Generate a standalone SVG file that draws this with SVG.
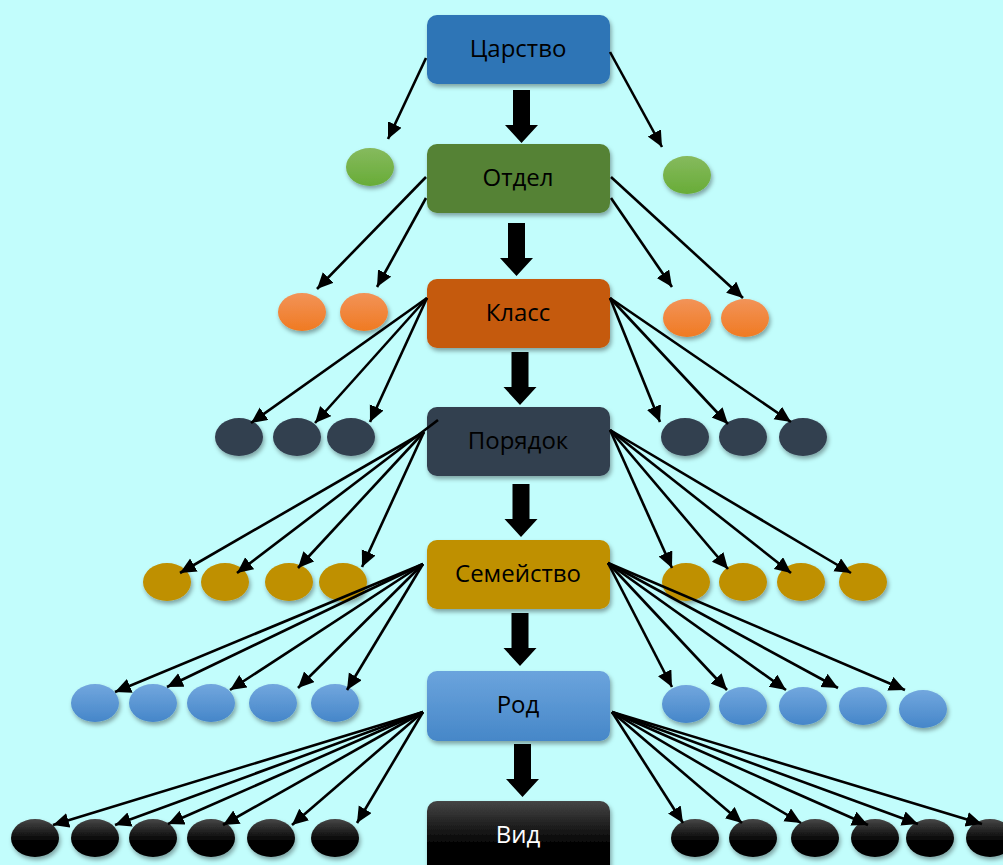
<svg xmlns="http://www.w3.org/2000/svg" width="1003" height="865" viewBox="0 0 1003 865">
<defs>
<filter id="sh" x="-20%" y="-20%" width="150%" height="160%"><feDropShadow dx="1.5" dy="3" stdDeviation="2" flood-color="#000" flood-opacity="0.35"/></filter>
<linearGradient id="gGreen" x1="0" y1="0" x2="0" y2="1"><stop offset="0" stop-color="#86BA5E"/><stop offset="1" stop-color="#68AC37"/></linearGradient>
<linearGradient id="gOrange" x1="0" y1="0" x2="0" y2="1"><stop offset="0" stop-color="#F29358"/><stop offset="1" stop-color="#F07A22"/></linearGradient>
<linearGradient id="gBlue" x1="0" y1="0" x2="0" y2="1"><stop offset="0" stop-color="#72A7DE"/><stop offset="1" stop-color="#4586C9"/></linearGradient>
<linearGradient id="gBlack" x1="0" y1="0" x2="0" y2="1"><stop offset="0" stop-color="#474747"/><stop offset="0.6" stop-color="#000"/><stop offset="1" stop-color="#000"/></linearGradient>
<linearGradient id="gRod" x1="0" y1="0" x2="0" y2="1"><stop offset="0" stop-color="#6BA4DD"/><stop offset="1" stop-color="#4687C8"/></linearGradient>
<linearGradient id="gVid" x1="0" y1="0" x2="0" y2="1"><stop offset="0" stop-color="#454545"/><stop offset="0.6" stop-color="#000"/><stop offset="1" stop-color="#000"/></linearGradient>
<marker id="ah" markerUnits="userSpaceOnUse" markerWidth="18" markerHeight="18" refX="16" refY="7.5" orient="auto"><path d="M0,0 L16,7.5 L0,15 z" fill="#000"/></marker>
<path id="fat" d="M-8.5,0 H8.5 V35 H16.5 L0,53 L-16.5,35 H-8.5 Z" fill="#000"/>
</defs>
<style>
.box{filter:url(#sh)}
.lbl{font-family:"Open Sans","Noto Sans","DejaVu Sans",sans-serif;font-size:24px;fill:#000;text-anchor:middle}
.ov{filter:url(#sh)}
.green{fill:url(#gGreen)}
.orange{fill:url(#gOrange)}
.dark{fill:#333F50}
.gold{fill:#BF9000}
.blue{fill:url(#gBlue)}
.black{fill:url(#gBlack)}
.c line{stroke:#000;stroke-width:2.6;marker-end:url(#ah)}
</style>
<rect width="1003" height="865" fill="#C2FDFC"/>

<g id="node-tsarstvo"><rect class="box" x="427" y="15" width="183" height="69" rx="10" fill="#2E75B6"/><text class="lbl" x="518" y="57">Царство</text></g>
<g id="node-otdel"><rect class="box" x="427" y="144" width="183" height="69" rx="10" fill="#548235"/><text class="lbl" x="518" y="186">Отдел</text></g>
<g id="node-klass"><rect class="box" x="427" y="279" width="183" height="69" rx="10" fill="#C55A11"/><text class="lbl" x="518" y="321">Класс</text></g>
<g id="node-poryadok"><rect class="box" x="427" y="407" width="183" height="69" rx="10" fill="#333F50"/><text class="lbl" x="518" y="449">Порядок</text></g>
<g id="node-semeystvo"><rect class="box" x="427" y="540" width="183" height="69" rx="10" fill="#BF9000"/><text class="lbl" x="518" y="582">Семейство</text></g>
<g id="node-rod"><rect class="box" x="427" y="671" width="183" height="70" rx="10" fill="url(#gRod)"/><text class="lbl" x="518" y="713">Род</text></g>
<g id="node-vid"><rect class="box" x="427" y="801" width="183" height="75" rx="10" fill="url(#gVid)"/><text class="lbl" x="518" y="843" style="fill:#fff">Вид</text></g>

<g id="ovals-otdel">
<ellipse id="o1a" class="ov green" cx="370" cy="167" rx="24" ry="19"/>
<ellipse id="o1b" class="ov green" cx="687" cy="175" rx="24" ry="19"/>
</g>
<g id="ovals-klass">
<ellipse id="o2a" class="ov orange" cx="302" cy="312" rx="24" ry="19"/>
<ellipse id="o2b" class="ov orange" cx="364" cy="312" rx="24" ry="19"/>
<ellipse id="o2c" class="ov orange" cx="687" cy="318" rx="24" ry="19"/>
<ellipse id="o2d" class="ov orange" cx="745" cy="318" rx="24" ry="19"/>
</g>
<g id="ovals-poryadok">
<ellipse id="o3a" class="ov dark" cx="239" cy="437" rx="24" ry="19"/>
<ellipse id="o3b" class="ov dark" cx="297" cy="437" rx="24" ry="19"/>
<ellipse id="o3c" class="ov dark" cx="351" cy="437" rx="24" ry="19"/>
<ellipse id="o3d" class="ov dark" cx="685" cy="437" rx="24" ry="19"/>
<ellipse id="o3e" class="ov dark" cx="743" cy="437" rx="24" ry="19"/>
<ellipse id="o3f" class="ov dark" cx="803" cy="437" rx="24" ry="19"/>
</g>
<g id="ovals-semeystvo">
<ellipse id="o4a" class="ov gold" cx="167" cy="582" rx="24" ry="19"/>
<ellipse id="o4b" class="ov gold" cx="225" cy="582" rx="24" ry="19"/>
<ellipse id="o4c" class="ov gold" cx="289" cy="582" rx="24" ry="19"/>
<ellipse id="o4d" class="ov gold" cx="343" cy="582" rx="24" ry="19"/>
<ellipse id="o4e" class="ov gold" cx="686" cy="582" rx="24" ry="19"/>
<ellipse id="o4f" class="ov gold" cx="743" cy="582" rx="24" ry="19"/>
<ellipse id="o4g" class="ov gold" cx="801" cy="582" rx="24" ry="19"/>
<ellipse id="o4h" class="ov gold" cx="863" cy="582" rx="24" ry="19"/>
</g>
<g id="ovals-rod">
<ellipse id="o5a" class="ov blue" cx="95" cy="703" rx="24" ry="19"/>
<ellipse id="o5b" class="ov blue" cx="153" cy="703" rx="24" ry="19"/>
<ellipse id="o5c" class="ov blue" cx="211" cy="703" rx="24" ry="19"/>
<ellipse id="o5d" class="ov blue" cx="273" cy="703" rx="24" ry="19"/>
<ellipse id="o5e" class="ov blue" cx="335" cy="703" rx="24" ry="19"/>
<ellipse id="o5f" class="ov blue" cx="686" cy="704" rx="24" ry="19"/>
<ellipse id="o5g" class="ov blue" cx="743" cy="706" rx="24" ry="19"/>
<ellipse id="o5h" class="ov blue" cx="803" cy="706" rx="24" ry="19"/>
<ellipse id="o5i" class="ov blue" cx="863" cy="706" rx="24" ry="19"/>
<ellipse id="o5j" class="ov blue" cx="923" cy="709" rx="24" ry="19"/>
</g>
<g id="ovals-vid">
<ellipse id="o6a" class="ov black" cx="35" cy="838" rx="24" ry="19"/>
<ellipse id="o6b" class="ov black" cx="95" cy="838" rx="24" ry="19"/>
<ellipse id="o6c" class="ov black" cx="153" cy="838" rx="24" ry="19"/>
<ellipse id="o6d" class="ov black" cx="211" cy="838" rx="24" ry="19"/>
<ellipse id="o6e" class="ov black" cx="271" cy="838" rx="24" ry="19"/>
<ellipse id="o6f" class="ov black" cx="335" cy="838" rx="24" ry="19"/>
<ellipse id="o6g" class="ov black" cx="695" cy="838" rx="24" ry="19"/>
<ellipse id="o6h" class="ov black" cx="753" cy="838" rx="24" ry="19"/>
<ellipse id="o6i" class="ov black" cx="815" cy="838" rx="24" ry="19"/>
<ellipse id="o6j" class="ov black" cx="875" cy="838" rx="24" ry="19"/>
<ellipse id="o6k" class="ov black" cx="930" cy="838" rx="24" ry="19"/>
<ellipse id="o6l" class="ov black" cx="990" cy="838" rx="24" ry="19"/>
</g>

<g id="connectors" class="c">
<use href="#fat" x="521.5" y="90"/>
<use href="#fat" x="516.5" y="223"/>
<use href="#fat" x="520" y="352"/>
<use href="#fat" x="521" y="484"/>
<use href="#fat" x="520" y="613"/>
<use href="#fat" x="522.5" y="744"/>

<line x1="426" y1="58" x2="388" y2="139"/>
<line x1="610" y1="52" x2="662" y2="147"/>

<line x1="426" y1="177" x2="317" y2="289"/>
<line x1="426" y1="198" x2="377" y2="287"/>
<line x1="611" y1="177" x2="743" y2="298"/>
<line x1="611" y1="198" x2="672" y2="287"/>

<line x1="427" y1="298" x2="251" y2="423"/>
<line x1="427" y1="298" x2="315" y2="423"/>
<line x1="427" y1="298" x2="370" y2="422"/>
<line x1="610" y1="298" x2="660" y2="422"/>
<line x1="610" y1="298" x2="728" y2="424"/>
<line x1="610" y1="298" x2="791" y2="422"/>

<line x1="424" y1="432" x2="180" y2="573"/>
<line x1="438" y1="420" x2="237" y2="573"/>
<line x1="424" y1="432" x2="298" y2="568"/>
<line x1="424" y1="432" x2="362" y2="567"/>
<line x1="610" y1="430" x2="672" y2="568"/>
<line x1="610" y1="430" x2="728" y2="569"/>
<line x1="610" y1="430" x2="791" y2="573"/>
<line x1="610" y1="430" x2="851" y2="573"/>

<line x1="423" y1="564" x2="115" y2="692"/>
<line x1="423" y1="564" x2="167" y2="687"/>
<line x1="423" y1="564" x2="230" y2="690"/>
<line x1="423" y1="564" x2="298" y2="688"/>
<line x1="423" y1="564" x2="347" y2="690"/>
<line x1="608" y1="563" x2="672" y2="687"/>
<line x1="608" y1="563" x2="727" y2="690"/>
<line x1="608" y1="563" x2="786" y2="690"/>
<line x1="608" y1="563" x2="838" y2="688"/>
<line x1="608" y1="563" x2="905" y2="690"/>

<line x1="423" y1="712" x2="53" y2="825"/>
<line x1="423" y1="712" x2="115" y2="825"/>
<line x1="423" y1="712" x2="168" y2="824"/>
<line x1="423" y1="712" x2="223" y2="825"/>
<line x1="423" y1="712" x2="292" y2="825"/>
<line x1="423" y1="712" x2="357" y2="823"/>
<line x1="612" y1="712" x2="683" y2="823"/>
<line x1="612" y1="712" x2="742" y2="823"/>
<line x1="612" y1="712" x2="801" y2="823"/>
<line x1="612" y1="712" x2="868" y2="825"/>
<line x1="612" y1="712" x2="918" y2="824"/>
<line x1="612" y1="712" x2="982" y2="824"/>
</g>
</svg>
